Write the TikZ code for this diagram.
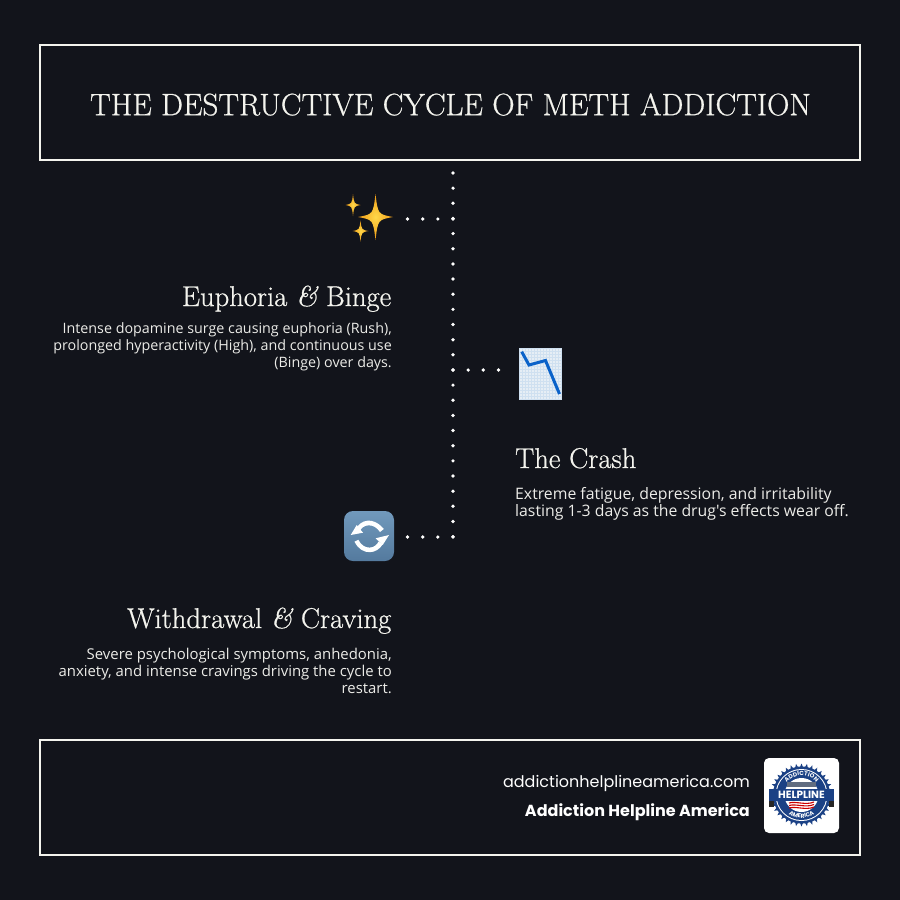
\documentclass[tikz,border=0pt]{standalone}
\usepackage{fontspec}
\setmainfont{Latin Modern Roman}
\newfontfamily\headfont[FakeBold=0.7]{Latin Modern Roman}
\newfontfamily\bodyfont{Open Sans}
\newfontfamily\footfont{Poppins}
\usetikzlibrary{decorations.text}
\definecolor{bgc}{HTML}{12141B}
\definecolor{ink}{HTML}{F4F4EE}
\definecolor{bodyc}{HTML}{ECECE8}
\definecolor{navy}{HTML}{1B4185}
\definecolor{starc}{HTML}{EE9A14}
\definecolor{starin}{HTML}{FFD84A}
\definecolor{linec}{HTML}{0A62C9}
\definecolor{paper}{HTML}{E6EEF5}
\definecolor{gridc}{HTML}{CFE0F0}
\definecolor{cyctop}{HTML}{7199BC}
\definecolor{cycbot}{HTML}{547A9E}
\tikzset{
  frame/.style={draw=ink,line width=2pt,fill=none},
  headtxt/.style={text=ink,inner sep=0pt,anchor=base east,font=\headfont\fontsize{28.6}{32}\selectfont},
  bodytxt/.style={text=bodyc,inner sep=0pt,align=right,anchor=north east},
  dots/.style={draw=white,line width=3.7pt,line cap=round,dash pattern=on 0pt off 15.15pt},
  sparkle/.style={inner color=starin,outer color=starc},
}
\newcommand{\starshape}[4]{% cx cy rx ry
  \shade[sparkle] (#1-#3,#2) .. controls (#1-0.14*#3,#2-0.12*#4) .. (#1,#2-#4)
    .. controls (#1+0.14*#3,#2-0.12*#4) .. (#1+#3,#2)
    .. controls (#1+0.14*#3,#2+0.12*#4) .. (#1,#2+#4)
    .. controls (#1-0.14*#3,#2+0.12*#4) .. cycle;}
\begin{document}
\begin{tikzpicture}[x=1pt,y=-1pt]
\useasboundingbox (0,0) rectangle (900,900);
\fill[bgc] (0,0) rectangle (900,900);
% frames
\draw[frame] (40,45) rectangle (860,160);
\draw[frame] (40,740) rectangle (860,855);
\node[text=ink,inner sep=0pt,font=\headfont\fontsize{31}{36}\selectfont] (title) at (450.5,104.5) {THE DESTRUCTIVE CYCLE OF METH ADDICTION};
% dotted connectors
\coordinate (spine-top) at (453,173);
\coordinate (spine-bottom) at (453,537);
\coordinate (j1) at (453,219);
\coordinate (j2) at (453,370);
\coordinate (j3) at (453,537);
\coordinate (e1) at (407.5,219);
\coordinate (e2) at (499.5,370);
\coordinate (e3) at (407.5,537);
\draw[dots] (spine-top) -- (spine-bottom);
\draw[dots] (j1) -- (e1);
\draw[dots] (j2) -- (e2);
\draw[dots] (j3) -- (e3);
% sparkles
\starshape{375.5}{217}{17.5}{23}
\starshape{353}{205}{7.5}{11}
\starshape{360.5}{231}{8}{10.5}
% chart emoji
\fill[paper] (519,348) rectangle (562,399);
\begin{scope}
\clip (519,348) rectangle (562,399);
\foreach \i in {0,...,14} \draw[gridc,line width=0.5pt] (519+3*\i,348) -- (519+3*\i,399);
\foreach \i in {0,...,17} \draw[gridc,line width=0.5pt] (519,348+3*\i) -- (562,348+3*\i);
\end{scope}
\draw[linec,line width=3pt,line join=miter] (521.7,351.7) -- (529,365) -- (545.5,360.5) -- (559.5,394);
% cycle emoji
\shade[rounded corners=9pt,top color=cyctop,bottom color=cycbot] (344,511) rectangle (394,561);
\fill[white] (383.8,529) .. controls (378,522) and (372,520.4) .. (368,520.6) .. controls (362,521) and (358,525) .. (355.8,528.8)
  -- (359.6,531.6) .. controls (361,528) and (364,525.6) .. (368.5,525.3) .. controls (373,525.2) and (377,527.5) .. (380,532) -- cycle;
\fill[white] (350.7,535) -- (356.7,525) -- (363,532.7) -- cycle;
\fill[white] (354.5,541.6) .. controls (358,549) and (364,552.4) .. (370,552.2) .. controls (375,552) and (380,549) .. (382.6,544.4)
  -- (378.6,541.4) .. controls (377,545) and (374,547.4) .. (369.6,547.6) .. controls (365,547.6) and (361,545) .. (358.4,539.8) -- cycle;
\fill[white] (389,535) -- (382.7,545) -- (375.7,538.3) -- cycle;
% text blocks
\node[headtxt] (h1) at (391.5,306) {Euphoria {\itshape\&} Binge};
\node[bodytxt,font=\bodyfont\fontsize{14.3}{17}\selectfont] (b1) at (392,322.5) {Intense dopamine surge causing euphoria (Rush),\\prolonged hyperactivity (High), and continuous use\\(Binge) over days.};
\node[headtxt,anchor=base west] (h2) at (515,468) {The Crash};
\node[bodytxt,align=left,anchor=north west,font=\bodyfont\fontsize{15.8}{17.4}\selectfont] (b2) at (515,487) {Extreme fatigue, depression, and irritability\\lasting 1-3 days as the drug's effects wear off.};
\node[headtxt] (h3) at (391.5,628) {Withdrawal {\itshape\&} Craving};
\node[bodytxt,font=\bodyfont\fontsize{14.9}{17}\selectfont] (b3) at (392,647.5) {Severe psychological symptoms, anhedonia,\\anxiety, and intense cravings driving the cycle to\\restart.};
% footer
\node[text=white,inner sep=0pt,anchor=base east,font=\footfont\fontsize{16}{18}\selectfont] (url) at (750,787) {addictionhelplineamerica.com};
\node[text=white,inner sep=0pt,anchor=base east,font=\footfont\bfseries\fontsize{16}{18}\selectfont] (brand) at (750,816) {Addiction Helpline America};
% logo
\fill[white,rounded corners=5pt] (764,758) rectangle (839,833);
\fill[navy] (801.5,795) circle (28.5);
\foreach \a in {0,10,...,350}
  \fill[navy] ({801.5+27*cos(\a-4)},{795+27*sin(\a-4)}) -- ({801.5+31.5*cos(\a)},{795+31.5*sin(\a)}) -- ({801.5+27*cos(\a+4)},{795+27*sin(\a+4)}) -- cycle;
\fill[white] (801.5,795) circle (26);
\fill[navy] (801.5,795) circle (25);
\fill[white] (801.5,795) circle (17);
\path[postaction={decorate,decoration={text along path,text align=center,text={|\footfont\bfseries\fontsize{5.9}{7}\selectfont\color{white}|ADDICTION}}}] (782,795) arc[start angle=180,end angle=360,radius=19.5];
\path[postaction={decorate,decoration={text along path,text align=center,text={|\footfont\bfseries\fontsize{5.9}{7}\selectfont\color{white}|AMERICA}}}] (778.5,795) arc[start angle=180,end angle=0,radius=23];
\fill[gray!70!navy] (787,787) rectangle (816,782);
\fill[black!85] (769,801) rectangle (774,807);
\fill[black!85] (829,801) rectangle (834,807);
\fill[navy] (769,789) rectangle (834,801);
\node[text=white,inner sep=0pt,font=\footfont\bfseries\fontsize{10.5}{11}\selectfont] (logotxt) at (801.5,795.2) {HELPLINE};
\foreach \d in {0,2.5,5} \draw[red!80!black,line width=1.1pt] (789,803+\d) .. controls (796,801+\d) and (806,805.5+\d) .. (814,802+\d);
\end{tikzpicture}
\end{document}
